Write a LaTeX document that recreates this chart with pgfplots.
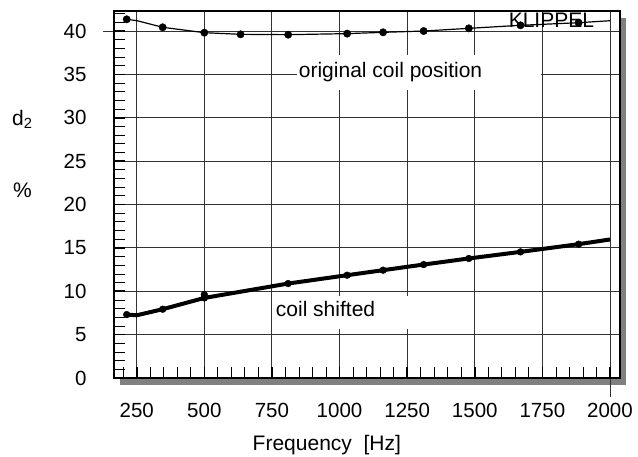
\documentclass[border=0pt]{standalone}
\usepackage{fontspec}
\setmainfont{Liberation Sans}
\usepackage{pgfplots}
\pgfplotsset{compat=1.18}
\begin{document}
\begin{tikzpicture}[font=\fontsize{21bp}{25bp}\selectfont]
\useasboundingbox (-114bp,-79bp) rectangle (524bp,378bp);
\fill[black!50] (6bp,-7bp) rectangle (512bp,360bp);
\begin{axis}[
 at={(0,0)}, anchor=south west,
 scale only axis, width=506bp, height=367bp,
 xmin=166, xmax=2037, ymin=0, ymax=42.31,
 axis background/.style={fill=white},
 xtick={250,500,...,2000}, ytick={0,5,...,40},
 minor xtick={200,250,...,2000}, minor ytick={0,1,...,42},
 xtick pos=bottom, ytick pos=left,
 tick align=inside,
 major tick length=11bp, minor tick length=11bp,
 major tick style={line width=1.6bp, black},
 minor tick style={line width=0.8bp, black},
 grid=major,
 major x grid style={black!80, line width=0.9bp, shorten <=-19bp},
 major y grid style={black!80, line width=0.9bp, shorten <=-11bp},
 axis line style={line width=1.3bp},
 /pgf/number format/assume math mode=true,
 /pgf/number format/1000 sep={},
 tick label style={font=\fontsize{20.5bp}{24bp}\selectfont},
 xticklabel style={yshift=-22bp},
 yticklabel style={xshift=-24bp},
 clip=false,
]
\fill[white] (axis cs:842,37.2) rectangle (axis cs:1745,33.2);
\fill[white] (axis cs:757,9.42) rectangle (axis cs:1267,5.7);
\node[anchor=base west, inner sep=0] at (axis cs:849,34.7) {original coil position};
\node[anchor=base west, inner sep=0] at (axis cs:764,7.12) {coil shifted};
\node[anchor=base west, inner sep=0] at (axis cs:1625,40.35) {KLIPPEL};
\node[anchor=base west, inner sep=0] at ([xshift=-102bp]axis cs:166,29.16) {d\textsubscript{2}};
\node[anchor=base west, inner sep=0] at ([xshift=-101bp]axis cs:166,20.8) {\%};
\node[anchor=base, inner sep=0] at (axis cs:953,-8.34) {Frequency~~[Hz]};
% original coil position
\addplot[black, line width=1.2bp] coordinates {
 (213,41.35) (250,41.2) (346,40.43) (500,39.81) (634,39.62) (810,39.58)
 (1028,39.7) (1161,39.85) (1311,40.0) (1478,40.31) (1669,40.66) (1884,40.96) (2000,41.19)};
\addplot[black, only marks, mark=*, mark size=3.7bp] coordinates {
 (213,41.35) (346,40.43) (500,39.81) (634,39.62) (810,39.58)
 (1028,39.7) (1161,39.85) (1311,40.0) (1478,40.31) (1669,40.66) (1884,40.96)};
% coil shifted
\addplot[black, line width=4bp, line join=round] coordinates {
 (213,7.31) (250,7.23) (346,7.93) (500,9.23) (810,10.89) (1028,11.85)
 (1161,12.43) (1311,13.08) (1478,13.78) (1669,14.54) (1884,15.43) (2000,15.97)};
\addplot[black, only marks, mark=*, mark size=3.4bp] coordinates {
 (213,7.31) (346,7.93) (500,9.23) (500,9.62) (810,10.89) (1028,11.85)
 (1161,12.43) (1311,13.08) (1478,13.78) (1669,14.54) (1884,15.43)};
\end{axis}
\end{tikzpicture}
\end{document}
